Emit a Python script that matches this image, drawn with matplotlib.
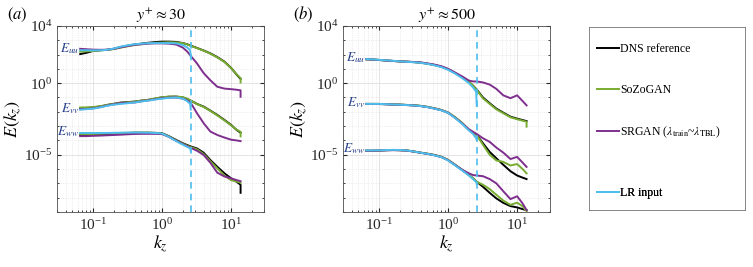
import numpy as np
import matplotlib.pyplot as plt
from matplotlib.ticker import FixedLocator, NullFormatter

plt.rcParams['font.family'] = ['Liberation Serif', 'DejaVu Serif']
plt.rcParams['mathtext.fontset'] = 'stix'
plt.rcParams['axes.unicode_minus'] = False

# wavenumbers (last point repeated for the end drop)
kz = [0.065, 0.08, 0.1, 0.13, 0.16, 0.2, 0.25, 0.32, 0.4, 0.5, 0.63, 0.8, 1.0,
      1.25, 1.6, 2.0, 2.3, 2.6, 3.2, 4.0, 5.0, 6.3, 8.0, 10.0, 12.0, 13.7, 13.7]
kz_lr = [0.065, 0.08, 0.1, 0.13, 0.16, 0.2, 0.25, 0.32, 0.4, 0.5, 0.63, 0.8, 1.0,
         1.25, 1.6, 2.0, 2.3, 2.55, 2.6]
kz_cut = 2.6

# log10 E(kz), panel (a) y+ ~ 30
a_uu_dns = [2.03, 2.12, 2.25, 2.30, 2.33, 2.40, 2.52, 2.62, 2.70, 2.76, 2.82, 2.87, 2.90,
            2.90, 2.88, 2.80, 2.72, 2.62, 2.46, 2.28, 2.08, 1.82, 1.50, 1.06, 0.60, 0.30, 0.30]
a_uu_soz = [2.20, 2.22, 2.25, 2.30, 2.32, 2.38, 2.48, 2.58, 2.66, 2.72, 2.78, 2.82, 2.84,
            2.86, 2.85, 2.79, 2.71, 2.60, 2.45, 2.27, 2.06, 1.80, 1.48, 1.05, 0.62, 0.35, 0.05]
a_uu_sr = [2.40, 2.37, 2.34, 2.33, 2.34, 2.40, 2.50, 2.60, 2.68, 2.72, 2.76, 2.78, 2.78,
           2.76, 2.70, 2.48, 2.22, 1.90, 1.38, 0.70, 0.20, -0.25, -0.38, -0.42, -0.46, -0.50, -0.95]
a_uu_lr = [2.30, 2.30, 2.29, 2.30, 2.33, 2.42, 2.55, 2.65, 2.72, 2.76, 2.79, 2.80, 2.80,
           2.80, 2.78, 2.66, 2.50, 2.30, 1.85]

a_vv_dns = [-1.76, -1.74, -1.70, -1.62, -1.52, -1.44, -1.36, -1.32, -1.29, -1.22, -1.17, -1.08, -0.99,
            -0.95, -0.94, -1.00, -1.10, -1.22, -1.45, -1.64, -1.92, -2.22, -2.57, -2.92, -3.27, -3.46, -3.46]
a_vv_soz = [-1.70, -1.69, -1.67, -1.60, -1.52, -1.45, -1.38, -1.33, -1.29, -1.22, -1.16, -1.06, -0.98,
            -0.94, -0.93, -0.98, -1.08, -1.22, -1.46, -1.66, -1.94, -2.25, -2.60, -2.95, -3.25, -3.40, -3.72]
a_vv_sr = [-1.82, -1.80, -1.76, -1.66, -1.56, -1.48, -1.40, -1.37, -1.35, -1.27, -1.20, -1.12, -1.05,
           -1.01, -1.00, -1.08, -1.20, -1.38, -2.10, -2.80, -3.38, -3.62, -3.80, -3.95, -4.00, -4.05, -4.05]
a_vv_lr = [-1.85, -1.82, -1.78, -1.68, -1.58, -1.50, -1.45, -1.40, -1.35, -1.28, -1.22, -1.14, -1.08,
           -1.03, -1.00, -1.08, -1.25, -1.45, -1.85]

a_ww_dns = [-3.62, -3.62, -3.62, -3.60, -3.56, -3.52, -3.50, -3.48, -3.46, -3.46, -3.46, -3.47, -3.50,
            -3.70, -3.97, -4.20, -4.32, -4.42, -4.56, -4.86, -5.37, -5.84, -6.30, -6.65, -6.89, -7.10, -7.66]
a_ww_soz = [-3.55, -3.55, -3.55, -3.54, -3.52, -3.50, -3.48, -3.47, -3.46, -3.46, -3.46, -3.48, -3.52,
            -3.72, -4.00, -4.23, -4.36, -4.46, -4.62, -4.95, -5.45, -5.95, -6.45, -6.78, -6.88, -6.95, -6.95]
a_ww_sr = [-3.70, -3.70, -3.68, -3.66, -3.64, -3.62, -3.60, -3.57, -3.55, -3.54, -3.54, -3.54, -3.56,
           -3.75, -4.02, -4.26, -4.40, -4.52, -4.72, -5.02, -5.56, -6.25, -6.52, -6.65, -6.77, -6.85, -6.85]
a_ww_lr = [-3.48, -3.48, -3.48, -3.48, -3.48, -3.47, -3.46, -3.45, -3.45, -3.45, -3.46, -3.48, -3.52,
           -3.75, -4.05, -4.30, -4.45, -4.55, -4.75]

# log10 E(kz), panel (b) y+ ~ 500
b_uu_dns = [1.67, 1.65, 1.62, 1.58, 1.55, 1.52, 1.50, 1.47, 1.43, 1.36, 1.27, 1.15, 0.97,
            0.72, 0.41, 0.10, -0.18, -0.45, -1.00, -1.40, -1.78, -2.06, -2.34, -2.48, -2.58, -2.65, -2.65]
b_uu_soz = [1.67, 1.65, 1.62, 1.58, 1.55, 1.52, 1.50, 1.47, 1.43, 1.36, 1.27, 1.15, 0.97,
            0.72, 0.41, 0.10, -0.18, -0.48, -1.06, -1.45, -1.83, -2.10, -2.38, -2.52, -2.62, -2.69, -3.04]
b_uu_sr = [1.67, 1.65, 1.62, 1.58, 1.55, 1.52, 1.50, 1.48, 1.45, 1.38, 1.30, 1.18, 1.00,
           0.75, 0.47, 0.18, 0.12, 0.12, 0.05, -0.10, -0.40, -0.85, -1.05, -0.85, -1.25, -1.55, -1.55]
b_uu_lr = [1.68, 1.66, 1.63, 1.59, 1.56, 1.52, 1.49, 1.46, 1.42, 1.35, 1.25, 1.12, 0.93,
           0.68, 0.35, 0.00, -0.30, -0.60, -1.60]

b_vv_dns = [-1.45, -1.45, -1.45, -1.47, -1.49, -1.50, -1.52, -1.55, -1.59, -1.66, -1.76, -1.88, -2.06,
            -2.38, -2.80, -3.27, -3.45, -3.62, -4.20, -4.80, -5.25, -5.70, -6.15, -6.45, -6.60, -6.70, -6.70]
b_vv_soz = [-1.45, -1.45, -1.45, -1.47, -1.49, -1.50, -1.52, -1.55, -1.58, -1.65, -1.75, -1.87, -2.05,
            -2.36, -2.78, -3.25, -3.44, -3.62, -4.30, -5.00, -5.40, -5.50, -5.75, -5.65, -6.00, -6.30, -6.30]
b_vv_sr = [-1.45, -1.45, -1.46, -1.48, -1.50, -1.51, -1.53, -1.56, -1.60, -1.67, -1.77, -1.89, -2.07,
           -2.40, -2.82, -3.22, -3.40, -3.55, -3.85, -4.10, -4.50, -4.85, -5.30, -5.15, -5.55, -5.85, -5.85]
b_vv_lr = [-1.45, -1.45, -1.45, -1.47, -1.49, -1.51, -1.53, -1.56, -1.60, -1.67, -1.78, -1.90, -2.08,
           -2.42, -2.85, -3.30, -3.55, -3.85, -3.98]

b_ww_dns = [-4.72, -4.72, -4.70, -4.68, -4.67, -4.68, -4.70, -4.78, -4.86, -4.93, -5.02, -5.15, -5.37,
            -5.70, -6.07, -6.42, -6.65, -6.89, -7.24, -7.66, -8.05, -8.36, -8.59, -8.68, -8.80, -8.87, -8.87]
b_ww_soz = [-4.72, -4.72, -4.70, -4.68, -4.67, -4.68, -4.70, -4.77, -4.85, -4.92, -5.01, -5.14, -5.36,
            -5.68, -6.05, -6.40, -6.64, -6.89, -7.10, -7.40, -7.80, -8.20, -8.50, -8.35, -8.60, -8.95, -8.95]
b_ww_sr = [-4.72, -4.72, -4.71, -4.69, -4.68, -4.69, -4.71, -4.78, -4.86, -4.94, -5.03, -5.16, -5.38,
           -5.70, -6.05, -6.30, -6.42, -6.45, -6.50, -6.70, -7.00, -7.55, -8.10, -7.90, -8.40, -8.87, -8.87]
b_ww_lr = [-4.70, -4.70, -4.69, -4.67, -4.66, -4.67, -4.70, -4.78, -4.86, -4.94, -5.04, -5.17, -5.40,
           -5.73, -6.10, -6.45, -6.70, -6.90, -7.05]

labels = ['DNS reference', 'SoZoGAN', r'SRGAN ($\lambda_{\rm train}$~$\lambda_{\rm TBL}$)', 'LR input']
colors = ['black', '#77AC30', '#7E2F8E', '#4DBEEE']
comp_names = [r'$E_{uu}$', r'$E_{vv}$', r'$E_{ww}$']
navy = '#27408B'

panel_a = [(a_uu_dns, a_uu_soz, a_uu_sr, a_uu_lr),
           (a_vv_dns, a_vv_soz, a_vv_sr, a_vv_lr),
           (a_ww_dns, a_ww_soz, a_ww_sr, a_ww_lr)]
panel_b = [(b_uu_dns, b_uu_soz, b_uu_sr, b_uu_lr),
           (b_vv_dns, b_vv_soz, b_vv_sr, b_vv_lr),
           (b_ww_dns, b_ww_soz, b_ww_sr, b_ww_lr)]

fig = plt.figure(figsize=(7.53, 2.67), dpi=100)
ax_a = fig.add_axes([0.0757, 0.206, 0.275, 0.697])
ax_b = fig.add_axes([0.4555, 0.206, 0.275, 0.697])


def draw(ax, panel, title, tag):
    handles = []
    for comp, name in zip(panel, comp_names):
        dns, soz, sr, lr = comp
        h1, = ax.plot(kz, 10.0 ** np.array(dns), color=colors[0], lw=1.4)
        h2, = ax.plot(kz, 10.0 ** np.array(soz), color=colors[1], lw=1.4)
        h3, = ax.plot(kz, 10.0 ** np.array(sr), color=colors[2], lw=1.4)
        h4, = ax.plot(kz_lr, 10.0 ** np.array(lr), color=colors[3], lw=1.4)
        handles = [h1, h2, h3, h4]
        # component name just left of the curves
        ax.text(0.063, 10.0 ** (lr[0] + 0.1), name, color=navy, fontsize=9.5,
                ha='right', va='center')
    ax.axvline(kz_cut, color=colors[3], ls='--', lw=1.2, dashes=(4, 3))
    ax.set_xscale('log')
    ax.set_yscale('log')
    ax.set_xlim(0.03, 30)
    ax.set_ylim(1e-9, 1e4)
    ax.set_yticks([1e-5, 1e0, 1e4])
    ax.yaxis.set_minor_locator(FixedLocator(10.0 ** np.arange(-9, 5)))
    ax.yaxis.set_minor_formatter(NullFormatter())
    ax.grid(which='major', color='0.85', lw=0.5)
    ax.grid(which='minor', color='0.87', lw=0.5, ls=':')
    ax.tick_params(which='both', direction='in', top=True, right=True,
                   labelsize=11, colors='0.15')
    ax.tick_params(which='major', length=3)
    ax.tick_params(which='minor', length=1.5)
    for s in ax.spines.values():
        s.set_color('0.3')
        s.set_linewidth(0.6)
    ax.set_xlabel(r'$k_z$', fontsize=13, labelpad=1)
    ax.set_ylabel(r'$E(k_z)$', fontsize=13, labelpad=0)
    ax.set_title(title, fontsize=11.5, pad=4)
    ax.text(-0.19, 1.06, tag, transform=ax.transAxes, fontsize=12, ha='center', va='center')
    return handles


handles = draw(ax_a, panel_a, r'$y^{+}\approx 30$', r'$(a)$')
draw(ax_b, panel_b, r'$y^{+}\approx 500$', r'$(b)$')

# legend box, one entry per row at the reference's heights
lg = fig.add_axes([0.782, 0.2135, 0.207, 0.685])
lg.set_xticks([])
lg.set_yticks([])
for s in lg.spines.values():
    s.set_color('0.45')
    s.set_linewidth(0.6)
rows = [0.880, 0.656, 0.426, 0.093]
for h, lab, yy in zip(handles, labels, rows):
    leg = lg.legend([h], [lab], loc='center left', bbox_to_anchor=(0.055, yy), frameon=False,
                    fontsize=8.5, handlelength=1.8, handletextpad=0.15,
                    borderpad=0, borderaxespad=0)
    lg.add_artist(leg)

fig.savefig('out.png', dpi=100)
